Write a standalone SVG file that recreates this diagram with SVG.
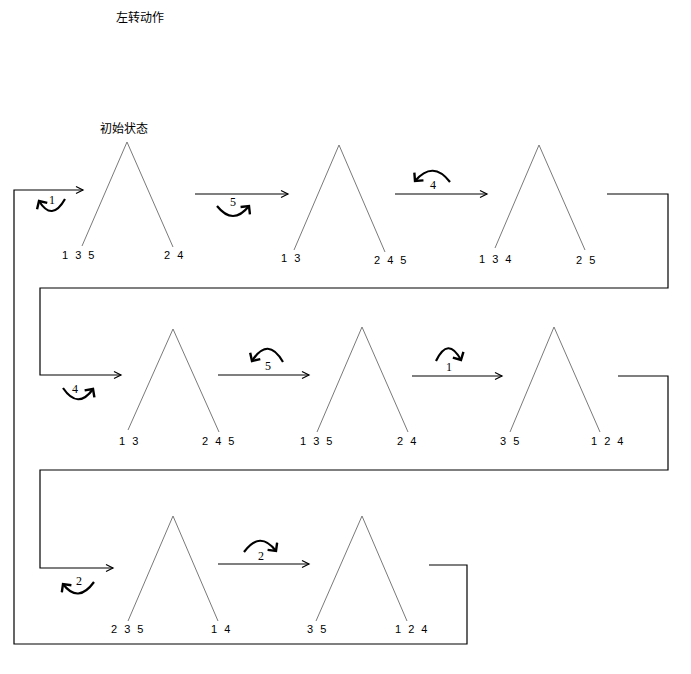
<svg xmlns="http://www.w3.org/2000/svg" width="691" height="674" viewBox="0 0 691 674">
<style>
.tri{fill:none;stroke:#7a7a7a;stroke-width:1}
.con{fill:none;stroke:#000;stroke-width:1.2}
.rot{fill:none;stroke:#000;stroke-width:2.2}
.lbl{font-family:"Liberation Sans","Noto Sans CJK SC",sans-serif;font-size:11px;letter-spacing:2px;fill:#000}
.num{font-family:"Liberation Serif",serif;font-size:12px;fill:#000;text-anchor:middle}
.cap{font-family:"Noto Sans CJK SC",sans-serif;font-size:12px;fill:#000}
</style>
<defs>
<marker id="ah" markerUnits="userSpaceOnUse" markerWidth="12" markerHeight="10" refX="9" refY="5" orient="auto">
<path d="M2,1.5 L9,5 L2,8.5" fill="none" stroke="#000" stroke-width="1.2"/>
</marker>
<marker id="rh" markerUnits="userSpaceOnUse" markerWidth="14" markerHeight="14" refX="10" refY="7" orient="auto">
<path d="M4,1 L10,7 L4,13" fill="none" stroke="#000" stroke-width="2.4"/>
</marker>
</defs>
<rect width="691" height="674" fill="#fff"/>
<text class="cap" x="116" y="22">左转动作</text>

<g id="connectors">
<path class="con" d="M429,565 H467 V644 H14 V190 H83" marker-end="url(#ah)"/>
<path class="con" d="M195,194 H288" marker-end="url(#ah)"/>
<path class="con" d="M395,194 H487" marker-end="url(#ah)"/>
<path class="con" d="M607,194 H668 V288 H40 V375 H121" marker-end="url(#ah)"/>
<path class="con" d="M218,375 H309" marker-end="url(#ah)"/>
<path class="con" d="M412,376 H502" marker-end="url(#ah)"/>
<path class="con" d="M618,376 H668 V470 H40 V568 H113" marker-end="url(#ah)"/>
<path class="con" d="M218,564 H309" marker-end="url(#ah)"/>
</g>

<g id="rotations">
<path class="rot" d="M65,199 Q52,222 39,201" marker-end="url(#rh)"/>
<text class="num" x="52" y="204">1</text>
<path class="rot" d="M217,206 Q233,226 249,206" marker-end="url(#rh)"/>
<text class="num" x="233" y="206">5</text>
<path class="rot" d="M450,182 Q433,160 415,181" marker-end="url(#rh)"/>
<text class="num" x="433" y="189">4</text>
<path class="rot" d="M63,388 Q78,410 93,389" marker-end="url(#rh)"/>
<text class="num" x="75" y="393">4</text>
<path class="rot" d="M283,362 Q268,336 252,361" marker-end="url(#rh)"/>
<text class="num" x="268" y="370">5</text>
<path class="rot" d="M436,361 Q448,336 461,360" marker-end="url(#rh)"/>
<text class="num" x="449" y="371">1</text>
<path class="rot" d="M94,582 Q78,604 63,584" marker-end="url(#rh)"/>
<text class="num" x="79" y="585">2</text>
<path class="rot" d="M244,552 Q260,530 276,551" marker-end="url(#rh)"/>
<text class="num" x="261" y="560">2</text>
</g>

<g id="n1">
<text class="cap" x="100" y="133">初始状态</text>
<path class="tri" d="M82,246 L127,142 L173,247"/>
<text class="lbl" x="62" y="259">1 3 5</text>
<text class="lbl" x="164" y="259">2 4</text>
</g>
<g id="n2">
<path class="tri" d="M294,250 L339,145 L385,252"/>
<text class="lbl" x="281" y="262">1 3</text>
<text class="lbl" x="374" y="264">2 4 5</text>
</g>
<g id="n3">
<path class="tri" d="M495,248 L539,145 L585,250"/>
<text class="lbl" x="479" y="263">1 3 4</text>
<text class="lbl" x="576" y="264">2 5</text>
</g>
<g id="n4">
<path class="tri" d="M128,430 L173,329 L219,432"/>
<text class="lbl" x="119" y="445">1 3</text>
<text class="lbl" x="202" y="445">2 4 5</text>
</g>
<g id="n5">
<path class="tri" d="M317,432 L362,327 L408,432"/>
<text class="lbl" x="300" y="445">1 3 5</text>
<text class="lbl" x="397" y="445">2 4</text>
</g>
<g id="n6">
<path class="tri" d="M510,432 L554,327 L600,432"/>
<text class="lbl" x="500" y="445">3 5</text>
<text class="lbl" x="591" y="445">1 2 4</text>
</g>
<g id="n7">
<path class="tri" d="M128,621 L173,516 L218,621"/>
<text class="lbl" x="111" y="633">2 3 5</text>
<text class="lbl" x="211" y="633">1 4</text>
</g>
<g id="n8">
<path class="tri" d="M316,621 L362,516 L407,621"/>
<text class="lbl" x="307" y="633">3 5</text>
<text class="lbl" x="395" y="633">1 2 4</text>
</g>
</svg>
